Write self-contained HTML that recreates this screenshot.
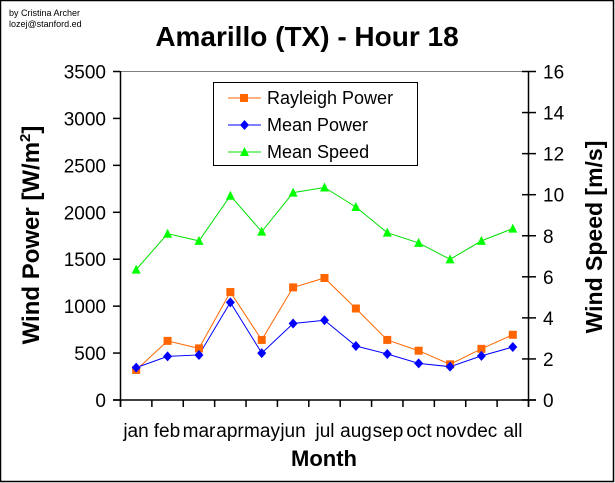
<!DOCTYPE html>
<html><head><style>
body{margin:0;background:#fff}
svg{display:block}
text{font-family:"Liberation Sans",sans-serif}
</style></head><body>
<svg width="615" height="483" viewBox="0 0 615 483">
<rect x="0.5" y="0.5" width="613" height="481" fill="#fff" stroke="#000" stroke-width="1.5"/>
<text x="9" y="16" font-size="9">by Cristina Archer</text>
<text x="9" y="27" font-size="9">lozej@stanford.ed</text>
<text x="307" y="46" font-size="28" font-weight="bold" text-anchor="middle">Amarillo (TX) - Hour 18</text>
<line x1="113" y1="71.5" x2="536" y2="71.5" stroke="#808080"/>
<g stroke="#000" stroke-width="1.5">
<line x1="120.5" y1="71" x2="120.5" y2="407"/>
<line x1="528.5" y1="71" x2="528.5" y2="407"/>
<line x1="113" y1="400" x2="536" y2="400"/>
</g>
<g stroke="#000" stroke-width="1.5" id="ticks"></g>
<g font-size="19" text-anchor="end" id="ly"></g>
<g font-size="19" id="ry"></g>
<g font-size="19" text-anchor="middle">
<text x="136" y="437">jan</text><text x="167" y="437">feb</text><text x="199" y="437">mar</text><text x="230" y="437">apr</text><text x="262" y="437">may</text><text x="293" y="437">jun</text><text x="325" y="437">jul</text><text x="356" y="437">aug</text><text x="388" y="437">sep</text><text x="419" y="437">oct</text><text x="451" y="437">nov</text><text x="482" y="437">dec</text><text x="513" y="437">all</text>
</g>
<text x="324" y="466" font-size="22" font-weight="bold" text-anchor="middle">Month</text>
<text transform="translate(39,235) rotate(-90)" font-size="24" font-weight="bold" text-anchor="middle">Wind Power [W/m<tspan font-size="15" dy="-9">2</tspan><tspan dy="9">]</tspan></text>
<text transform="translate(602,237) rotate(-90)" font-size="23" font-weight="bold" text-anchor="middle">Wind Speed [m/s]</text>
<g id="series"></g>
<rect x="213.5" y="82.5" width="204" height="83" fill="#fff" stroke="#000"/>
<line x1="228" y1="98" x2="261" y2="98" stroke="#ff6600"/><rect x="240" y="94" width="8" height="8" fill="#ff6600"/>
<text x="267" y="104" font-size="18">Rayleigh Power</text>
<line x1="228" y1="125" x2="261" y2="125" stroke="#0000ff"/><polygon points="244.5,120 249,125 244.5,130 240,125" fill="#0000ff"/>
<text x="267" y="131" font-size="18">Mean Power</text>
<line x1="228" y1="152" x2="261" y2="152" stroke="#00e000"/><polygon points="244.5,147 249,156 240,156" fill="#00ff00"/>
<text x="267" y="158" font-size="18">Mean Speed</text>
</svg>
<script>
var NS="http://www.w3.org/2000/svg";
function el(p,t,a,tx){var e=document.createElementNS(NS,t);for(var k in a)e.setAttribute(k,a[k]);if(tx!=null)e.textContent=tx;document.getElementById(p).appendChild(e);return e;}
var x0=120.5,x1=528.5,y0=400,y1=71.5,W=(x1-x0)/13;
for(var i=0;i<=7;i++){var y=y0-(y0-y1)*i/7;el("ticks","line",{x1:113,y1:y,x2:120,y2:y});el("ly","text",{x:106,y:y+7},String(i*500));}
for(var i=0;i<=8;i++){var y=y0-(y0-y1)*i/8;el("ticks","line",{x1:522,y1:y,x2:536,y2:y});el("ry","text",{x:543,y:y+7},String(i*2));}
for(var i=0;i<=13;i++){var x=x0+W*i;el("ticks","line",{x1:x,y1:400,x2:x,y2:407});}
var R=[320,630,550,1150,640,1200,1300,975,640,525,380,545,695];
var M=[345,465,480,1040,500,815,850,575,490,390,355,470,565];
var S=[6.35,8.1,7.75,9.95,8.2,10.1,10.35,9.4,8.15,7.65,6.85,7.75,8.35];
function cx(i){return x0+W*(i+0.5);}
function py(v){return y0-(y0-y1)*v/3500;}
function sy(v){return y0-(y0-y1)*v/16;}
function line(d,f,c){el("series","polyline",{points:d.map(function(v,i){return cx(i)+","+f(v)}).join(" "),fill:"none",stroke:c,"stroke-width":1});}
line(S,sy,"#00e000");line(R,py,"#ff6600");line(M,py,"#0000ff");
S.forEach(function(v,i){var x=cx(i),y=sy(v);el("series","polygon",{points:(x)+","+(y-5)+" "+(x+4.5)+","+(y+4)+" "+(x-4.5)+","+(y+4),fill:"#00ff00"});});
R.forEach(function(v,i){var x=cx(i),y=py(v);el("series","rect",{x:x-4,y:y-4,width:8,height:8,fill:"#ff6600"});});
M.forEach(function(v,i){var x=cx(i),y=py(v);el("series","polygon",{points:x+","+(y-5)+" "+(x+4.5)+","+y+" "+x+","+(y+5)+" "+(x-4.5)+","+y,fill:"#0000ff"});});
</script>
</body></html>
